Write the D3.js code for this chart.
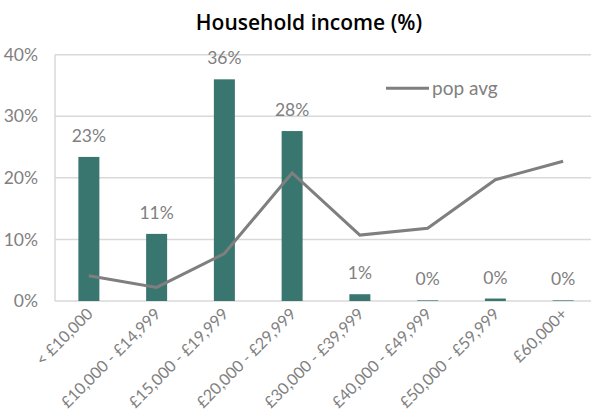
<!DOCTYPE html>
<html>
<head>
<meta charset="utf-8">
<script src="https://cdn.jsdelivr.net/npm/d3@7"></script>
<style>
  html, body { margin: 0; padding: 0; background: #fff; }
  svg { display: block; font-family: Lato, "Liberation Sans", sans-serif; }
</style>
</head>
<body>
<div id="chart"></div>
<script>
const categories = ["< £10,000", "£10,000 - £14,999", "£15,000 - £19,999", "£20,000 - £29,999",
  "£30,000 - £39,999", "£40,000 - £49,999", "£50,000 - £59,999", "£60,000+"];
const sampleValues = [23.4, 10.9, 36.0, 27.6, 1.1, 0.1, 0.4, 0.1];
const popAvgValues = [4.1, 2.2, 7.7, 20.8, 10.7, 11.8, 19.7, 22.7];
const yTicks = [0, 10, 20, 30, 40];

const width = 591, height = 419;
const plot = { left: 55, right: 597, top: 54.7, bottom: 301 };

const svg = d3.select("#chart").append("svg")
  .attr("width", width)
  .attr("height", height);

const x = d3.scaleBand()
  .domain(categories)
  .range([plot.left, plot.right])
  .paddingInner(0.69)
  .paddingOuter(0.345);

const y = d3.scaleLinear()
  .domain([0, 40])
  .range([plot.bottom, plot.top]);

// gridlines
svg.append("g")
  .selectAll("line")
  .data(yTicks)
  .join("line")
  .attr("x1", plot.left).attr("x2", width)
  .attr("y1", d => y(d)).attr("y2", d => y(d))
  .attr("stroke", "#d9d9d9")
  .attr("stroke-width", 1.5);

svg.append("line")
  .attr("x1", plot.left).attr("x2", plot.left)
  .attr("y1", y(40)).attr("y2", y(0))
  .attr("stroke", "#d9d9d9")
  .attr("stroke-width", 1.5);

// y axis labels
svg.append("g")
  .selectAll("text")
  .data(yTicks)
  .join("text")
  .attr("x", 38)
  .attr("y", d => y(d))
  .attr("dy", "0.35em")
  .attr("text-anchor", "end")
  .attr("fill", "#808080")
  .attr("font-size", 17.5)
  .text(d => d + "%");

// bars
svg.append("g")
  .selectAll("rect")
  .data(sampleValues)
  .join("rect")
  .attr("x", (d, i) => x(categories[i]))
  .attr("width", x.bandwidth())
  .attr("y", d => y(d))
  .attr("height", d => y(0) - y(d))
  .attr("fill", "#397670");

// bar labels
svg.append("g")
  .selectAll("text")
  .data(sampleValues)
  .join("text")
  .attr("x", (d, i) => x(categories[i]) + x.bandwidth() / 2)
  .attr("y", d => y(d) - 15)
  .attr("text-anchor", "middle")
  .attr("fill", "#808080")
  .attr("font-size", 17.5)
  .text(d => Math.round(d) + "%");

// pop avg line
const line = d3.line()
  .x((d, i) => x(categories[i]) + x.bandwidth() / 2)
  .y(d => y(d));

svg.append("path")
  .datum(popAvgValues)
  .attr("d", line)
  .attr("fill", "none")
  .attr("stroke", "#7f7f7f")
  .attr("stroke-width", 3);

// x axis labels
svg.append("g")
  .selectAll("text")
  .data(categories)
  .join("text")
  .attr("transform", d => `translate(${x(d) + x.bandwidth() / 2 + 5},${315}) rotate(-45)`)
  .attr("text-anchor", "end")
  .attr("fill", "#808080")
  .attr("font-size", 16)
  .text(d => d);

// legend
svg.append("line")
  .attr("x1", 386).attr("x2", 429)
  .attr("y1", 88.3).attr("y2", 88.3)
  .attr("stroke", "#7f7f7f")
  .attr("stroke-width", 3);
svg.append("text")
  .attr("x", 432).attr("y", 95)
  .attr("fill", "#808080")
  .attr("font-size", 19)
  .text("pop avg");

// title
svg.append("text")
  .attr("x", 309).attr("y", 30)
  .attr("text-anchor", "middle")
  .attr("fill", "#000")
  .attr("font-size", 21)
  .attr("font-family", "'Open Sans', Lato, sans-serif")
  .attr("font-weight", 600)
  .text("Household income (%)");
</script>
</body>
</html>
